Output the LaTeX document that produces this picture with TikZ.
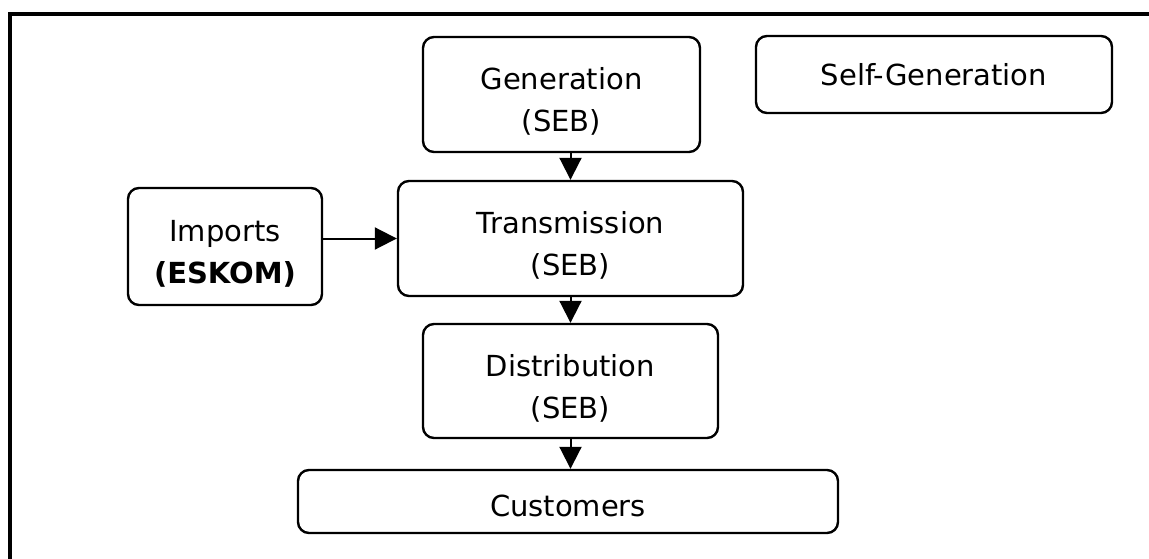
\documentclass[tikz,border=0pt]{standalone}
\usepackage{fontspec}
\setmainfont{DejaVu Sans}
\usetikzlibrary{arrows.meta}
% taller first line, so that a two-line label sits a little low in its box
\newcommand{\lowstrut}{\rule{0pt}{36pt}}
\tikzset{
  box/.style={draw, line width=2.4pt, rounded corners=11pt, inner sep=0pt,
    align=center, font=\fontsize{29}{42}\selectfont},
  flow/.style={line width=2pt, -{Triangle[length=22pt,width=22pt]}},
  frame/.style={line width=4.5pt}
}
\begin{document}
\begin{tikzpicture}[x=1pt,y=-1pt]
  \useasboundingbox (0,0) rectangle (1149,559);
  % outer frame (top and left edges)
  \draw[frame] (10,559) -- (10,14) -- (1149,14);

  % boxes
  \node[box, minimum width=277pt, minimum height=115pt] (gen) at (561.5,94.5)
    {\lowstrut Generation\\(SEB)};
  \node[box, minimum width=356pt, minimum height=77pt] (self) at (934,74.5)
    {Self-Generation};
  \node[box, minimum width=345pt, minimum height=115pt] (trans) at (570.5,238.5)
    {\lowstrut Transmission\\(SEB)};
  \node[box, minimum width=194pt, minimum height=117pt] (imp) at (225,246.5)
    {\lowstrut Imports\\\textbf{(ESKOM)}};
  \node[box, minimum width=295pt, minimum height=114pt] (dist) at (570.5,381)
    {\lowstrut Distribution\\(SEB)};
  \node[box, minimum width=540pt, minimum height=63pt, text height=32pt, text depth=2pt] (cust) at (568,501.5)
    {Customers};

  % flows
  \draw[flow] (gen.south -| trans.north) -- (trans.north);
  \draw[flow] (imp.east |- trans.west) -- (trans.west);
  \draw[flow] (trans.south) -- (dist.north);
  \draw[flow] (dist.south) -- (dist.south |- cust.north);
\end{tikzpicture}
\end{document}
